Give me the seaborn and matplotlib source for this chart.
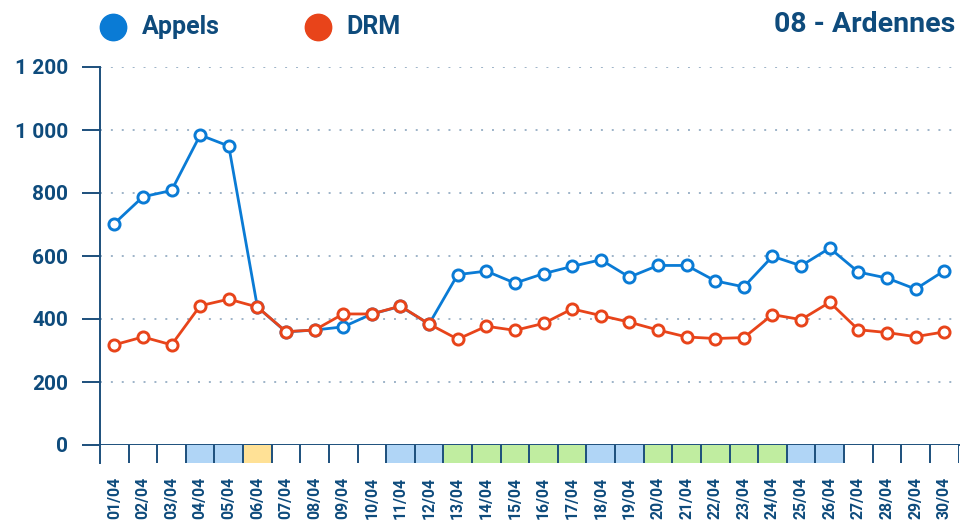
import numpy as np
import pandas as pd
import matplotlib
matplotlib.use("Agg")
import matplotlib.pyplot as plt
from matplotlib.lines import Line2D
import seaborn as sns

# ---- data ----
days = [f"{d:02d}/04" for d in range(1, 31)]
appels = [703, 788, 808, 984, 949, 438, 359, 365, 375, 416, 440, 384, 541, 552, 514, 544,
          567, 588, 533, 570, 570, 521, 502, 599, 569, 625, 549, 530, 495, 553]
drm = [318, 343, 318, 442, 463, 438, 360, 365, 416, 416, 441, 384, 336, 377, 364, 386,
       432, 411, 390, 365, 343, 338, 341, 414, 398, 453, 366, 357, 344, 359]
# day category: 'n' none, 'b' blue, 'y' yellow, 'g' green
day_type = ['n', 'n', 'n', 'b', 'b', 'y', 'n', 'n', 'n', 'n', 'b', 'b', 'g', 'g', 'g', 'g',
            'g', 'b', 'b', 'g', 'g', 'g', 'g', 'g', 'b', 'b', 'n', 'n', 'n', 'n']
yticks = [0, 200, 400, 600, 800, 1000, 1200]
series_names = ["Appels", "DRM"]
title = "08 - Ardennes"

# ---- style ----
NAVY = "#0E4B7C"
AXIS = "#1C4F7C"
BLUE = "#0A7BD5"
RED = "#E8441A"
GRID = "#9DB3C8"
CELL = {'n': "#FFFFFF", 'b': "#B0D5F6", 'y': "#FFE196", 'g': "#C0EDA0"}

sns.set_theme(style="white")
plt.rcParams['font.family'] = ['Roboto', 'DejaVu Sans']

W, H = 960, 522
fig = plt.figure(figsize=(W / 100, H / 100), dpi=100)

left, right = 100 / W, 958.5 / W
y0_px, ytop_px, cell_px = 445, 67, 463
ax = fig.add_axes([left, (H - y0_px) / H, right - left, (y0_px - ytop_px) / H])
ax2 = fig.add_axes([left, (H - cell_px) / H, right - left, (cell_px - y0_px) / H], sharex=ax)

x = np.arange(len(days))
df = pd.DataFrame({"x": np.concatenate([x, x]),
                   "value": appels + drm,
                   "series": [series_names[0]] * len(x) + [series_names[1]] * len(x)})

for name, col in zip(series_names, [BLUE, RED]):
    sub = df[df["series"] == name]
    sns.lineplot(data=sub, x="x", y="value", ax=ax, color=col, linewidth=2.0,
                 marker="o", markersize=8, markerfacecolor="white",
                 markeredgecolor=col, markeredgewidth=2.1, zorder=3, legend=False)

ax.set_xlim(-0.5, len(days) - 0.5)
ax.set_ylim(0, 1200)
ax.set_yticks(yticks)
ax.set_yticklabels([f"{v:,}".replace(",", " ") for v in yticks])
for v in yticks[1:]:
    ax.axhline(v, color=GRID, lw=1.4, ls=(0, (1, 4.6)), zorder=1)
ax.set_xlabel("")
ax.set_ylabel("")
ax.tick_params(axis="x", bottom=False, labelbottom=False)
ax.tick_params(axis="y", left=True, length=13, width=1.4, color=AXIS, pad=10,
               labelsize=15, labelcolor=NAVY)
for lab in ax.get_yticklabels():
    lab.set_fontweight("bold")
for s in ["top", "right"]:
    ax.spines[s].set_visible(False)
for s in ["left", "bottom"]:
    ax.spines[s].set_color(AXIS)
    ax.spines[s].set_linewidth(1.4)

# cell row
ax2.bar(x, [1] * len(x), width=1.0, color=[CELL[t] for t in day_type], linewidth=0)
ax2.set_ylim(0, 1)
for b in np.arange(len(days)) + 0.5:
    ax2.axvline(b, color=AXIS, lw=1.4)
ax2.set_yticks([])
ax2.set_xticks(x)
ax2.set_xticklabels(days, rotation=90, fontsize=11.3, color=NAVY, fontweight="bold")
ax2.tick_params(axis="x", bottom=False, pad=4)
for s in ["top", "right", "bottom"]:
    ax2.spines[s].set_visible(False)
ax2.spines["left"].set_color(AXIS)
ax2.spines["left"].set_linewidth(1.4)
ax2.set_xlabel("")
ax2.set_ylabel("")

# legend
for cx, tx, name, col in [(113, 142, series_names[0], BLUE), (318, 346, series_names[1], RED)]:
    fig.add_artist(Line2D([cx / W], [1 - 27 / H], transform=fig.transFigure, marker="o",
                          markersize=19, color=col, linestyle="none"))
    fig.text(tx / W, 1 - 27 / H, name, fontsize=18, color=NAVY, fontweight="bold",
             va="center", ha="left")

fig.text(955 / W, 1 - 25 / H, title, fontsize=20.5, color=NAVY, fontweight="bold",
         va="center", ha="right")

fig.savefig("out.png", dpi=100)
